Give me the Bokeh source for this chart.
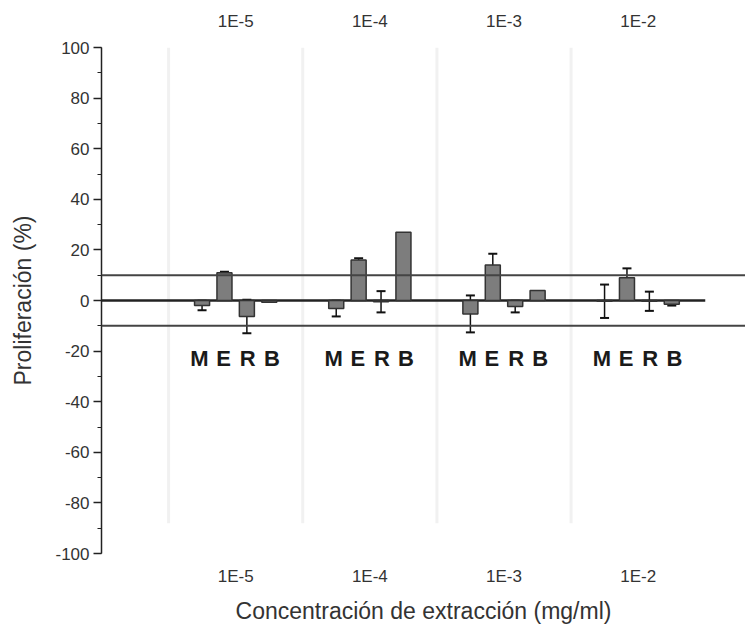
from bokeh.plotting import figure
from bokeh.models import ColumnDataSource, FixedTicker, LinearAxis, Span, Whisker, TeeHead, Range1d
from bokeh.core.properties import value
from bokeh.embed import file_html
from bokeh.resources import INLINE

# ---- data ----
concentrations = ["1E-5", "1E-4", "1E-3", "1E-2"]
series = ["M", "E", "R", "B"]
m_vals = [-2.0, -3.2, -5.3, -0.3]
m_err = [1.9, 3.1, 7.3, 6.6]
e_vals = [11.0, 16.0, 14.0, 9.0]
e_err = [0.4, 0.7, 4.5, 3.7]
r_vals = [-6.3, -0.5, -2.4, -0.3]
r_err = [6.6, 4.2, 2.3, 3.8]
b_vals = [-0.7, 27.0, 4.0, -1.5]
b_err = [0.0, 0.0, 0.0, 0.5]
thresholds = [-10, 10]
baseline = 0
y_ticks = list(range(-100, 101, 20))
y_minor = list(range(-100, 101, 10))

values = {"M": m_vals, "E": e_vals, "R": r_vals, "B": b_vals}
errors = {"M": m_err, "E": e_err, "R": r_err, "B": b_err}

step = 0.167
xs, tops, lows, highs, letters, lxs = [], [], [], [], [], []
for gi, _ in enumerate(concentrations):
    for si, s in enumerate(series):
        off = (si - (len(series) - 1) / 2)
        x = gi + off * step
        v = values[s][gi]
        e = errors[s][gi]
        xs.append(x)
        lxs.append(gi + off * 0.18)
        tops.append(v)
        lows.append(v - e)
        highs.append(v + e)
        letters.append(s)
src = ColumnDataSource(dict(x=xs, top=tops, lower=lows, upper=highs))
lab_src = ColumnDataSource(dict(x=lxs, letter=letters, ly=[-23] * len(xs)))
keep = [i for i in range(len(xs)) if highs[i] - lows[i] > 0.01]
err_src = ColumnDataSource(dict(x=[xs[i] for i in keep],
                                lower=[lows[i] for i in keep],
                                upper=[highs[i] for i in keep]))

FONT = "Liberation Sans"
p = figure(width=745, height=630, x_range=Range1d(-1.0, 3.8), y_range=Range1d(-100, 100),
           output_backend="svg", toolbar_location=None,
           min_border_left=101, min_border_right=0, min_border_top=47, min_border_bottom=77)
p.outline_line_color = None
p.xgrid.visible = False
p.ygrid.visible = False
p.background_fill_color = "white"

# faint group separators
n = len(concentrations)
p.segment(x0=[i - 0.5 for i in range(n)], x1=[i - 0.5 for i in range(n)],
          y0=[-88] * n, y1=[100] * n, line_color="#f1f1f1", line_width=3)

# threshold lines
for t in thresholds:
    p.add_layout(Span(location=t, dimension="width", line_color="#444444", line_width=2))
p.segment(x0=[-1.0], x1=[n - 0.5], y0=[baseline], y1=[baseline], line_color="#222222", line_width=2.5)

# bars
p.vbar(x="x", top="top", bottom=baseline, width=0.112, source=src,
       fill_color="#7d7d7d", line_color="#333333", line_width=1.5)

# error bars
p.add_layout(Whisker(base="x", lower="lower", upper="upper", source=err_src, dimension="height",
                     line_color="#111111", line_width=1.5,
                     upper_head=TeeHead(size=9, line_color="#111111", line_width=2),
                     lower_head=TeeHead(size=9, line_color="#111111", line_width=2)))

# series letters
p.text(x="x", y="ly", text="letter", source=lab_src, text_font=value(FONT), text_font_style="bold",
       text_font_size="22px", text_align="center", text_baseline="middle", text_color="#1a1a1a")

# left axis
ya = p.yaxis[0]
ya.ticker = FixedTicker(ticks=y_ticks, minor_ticks=y_minor)
ya.major_label_overrides = {t: str(t) for t in y_ticks}
ya.axis_line_color = "#222222"
ya.axis_line_width = 1.5
ya.major_tick_out = 8
ya.major_tick_in = 0
ya.minor_tick_out = 4
ya.minor_tick_in = 0
ya.major_tick_line_width = 1.5
ya.minor_tick_line_width = 1.2
ya.major_tick_line_color = "#222222"
ya.minor_tick_line_color = "#222222"
ya.major_label_text_font = FONT
ya.major_label_text_font_size = "17px"
ya.major_label_text_color = "#333333"
ya.major_label_standoff = 4
ya.axis_label = "Proliferación (%)"
ya.axis_label_text_font = FONT
ya.axis_label_text_font_size = "23px"
ya.axis_label_text_font_style = "normal"
ya.axis_label_text_color = "#333333"
ya.axis_label_standoff = 16

labels = {i: c for i, c in enumerate(concentrations)}

def style_x(ax, standoff):
    ax.ticker = FixedTicker(ticks=list(range(n)))
    ax.major_label_overrides = labels
    ax.axis_line_color = None
    ax.major_tick_line_color = None
    ax.minor_tick_line_color = None
    ax.major_label_text_font = FONT
    ax.major_label_text_font_size = "17px"
    ax.major_label_text_color = "#333333"
    ax.major_label_standoff = standoff

xa = p.xaxis[0]
style_x(xa, 7)
xa.axis_label = "Concentración de extracción (mg/ml)"
xa.axis_label_text_font = FONT
xa.axis_label_text_font_size = "23px"
xa.axis_label_text_font_style = "normal"
xa.axis_label_text_color = "#333333"
xa.axis_label_standoff = 9

top_ax = LinearAxis()
style_x(top_ax, 11)
p.add_layout(top_ax, "above")

open("out.html", "w").write(file_html(p, INLINE))
